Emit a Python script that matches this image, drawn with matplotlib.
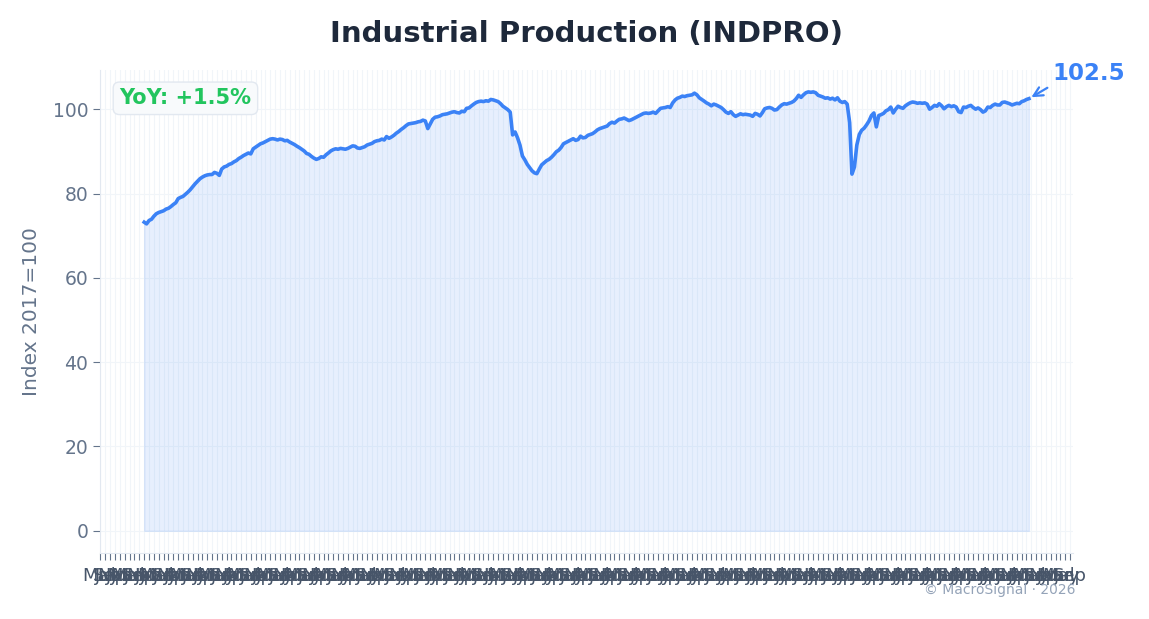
import matplotlib
matplotlib.use("Agg")
import matplotlib.pyplot as plt
import matplotlib.dates as mdates
import pandas as pd

# monthly INDPRO readings (index 2017=100)
start_month = "1995-11-01"
indpro = [
    73.2, 72.8, 73.6, 73.9, 74.6, 75.2, 75.5, 75.7, 75.9, 76.3, 76.5, 76.9,
    77.4, 77.8, 78.8, 79.1, 79.3, 79.8, 80.3, 80.9, 81.6, 82.3, 82.9, 83.5,
    83.9, 84.2, 84.4, 84.5, 84.5, 85.0, 84.8, 84.3, 85.8, 86.3, 86.5, 86.9,
    87.1, 87.5, 87.8, 88.3, 88.6, 89.0, 89.3, 89.6, 89.4, 90.6, 91.0, 91.4,
    91.8, 92.0, 92.3, 92.6, 92.9, 93.0, 92.9, 92.7, 92.9, 92.8, 92.5, 92.6,
    92.2, 91.9, 91.6, 91.2, 90.9, 90.5, 90.1, 89.5, 89.3, 88.8, 88.4, 88.1,
    88.3, 88.7, 88.6, 89.2, 89.6, 90.1, 90.4, 90.6, 90.5, 90.7, 90.6, 90.5,
    90.7, 91.0, 91.3, 91.2, 90.8, 90.7, 90.9, 91.1, 91.5, 91.7, 91.9, 92.3,
    92.5, 92.6, 92.9, 92.7, 93.5, 93.1, 93.4, 93.8, 94.3, 94.7, 95.2, 95.6,
    96.1, 96.5, 96.6, 96.7, 96.8, 97.0, 97.1, 97.4, 97.2, 95.4, 96.5, 97.6,
    98.1, 98.2, 98.4, 98.7, 98.8, 98.9, 99.1, 99.3, 99.4, 99.2, 99.1, 99.5,
    99.4, 100.2, 100.3, 100.8, 101.2, 101.6, 101.8, 101.9, 101.8, 102.0, 101.9, 102.3,
    102.2, 102.0, 101.8, 101.3, 100.7, 100.3, 99.9, 99.3, 93.9, 94.6, 93.2, 91.5,
    88.9, 88.0, 86.9, 86.1, 85.4, 84.9, 84.7, 85.8, 86.8, 87.3, 87.8, 88.1,
    88.6, 89.2, 89.9, 90.3, 90.9, 91.8, 92.1, 92.4, 92.7, 93.0, 92.6, 92.8,
    93.6, 93.2, 93.3, 93.8, 94.0, 94.2, 94.6, 95.1, 95.4, 95.6, 95.8, 96.0,
    96.6, 96.9, 96.7, 97.2, 97.6, 97.7, 97.9, 97.6, 97.3, 97.5, 97.8, 98.1,
    98.4, 98.7, 99.0, 99.1, 99.0, 99.1, 99.3, 99.0, 99.6, 100.2, 100.3, 100.4,
    100.6, 100.4, 101.5, 102.2, 102.6, 102.8, 103.1, 103.0, 103.2, 103.3, 103.4, 103.8,
    103.4, 102.7, 102.3, 101.9, 101.5, 101.2, 100.8, 101.2, 101.0, 100.7, 100.4, 99.9,
    99.3, 99.0, 99.4, 98.7, 98.3, 98.6, 98.9, 98.7, 98.8, 98.7, 98.6, 98.3,
    99.0, 98.8, 98.4, 99.2, 100.1, 100.3, 100.4, 100.2, 99.8, 99.9, 100.5, 101.0,
    101.3, 101.2, 101.4, 101.6, 101.9, 102.5, 103.3, 102.8, 103.4, 103.9, 104.1, 104.0,
    104.1, 103.9, 103.3, 103.1, 102.9, 102.6, 102.7, 102.4, 102.6, 102.2, 102.7, 101.9,
    101.6, 101.8, 101.2, 96.8, 84.6, 86.3, 91.5, 94.0, 95.0, 95.5, 96.3, 97.2,
    98.5, 99.1, 95.8, 98.5, 98.7, 99.0, 99.6, 99.9, 100.5, 99.1, 100.0, 100.7,
    100.4, 100.2, 100.8, 101.2, 101.5, 101.7, 101.6, 101.4, 101.5, 101.4, 101.5, 101.2,
    100.0, 100.4, 100.9, 100.7, 101.3, 100.8, 100.1, 100.6, 100.9, 100.6, 100.8, 100.5,
    99.4, 99.2, 100.5, 100.4, 100.7, 100.9, 100.4, 100.0, 100.3, 99.9, 99.3, 99.6,
    100.5, 100.4, 100.9, 101.2, 101.0, 101.0, 101.6, 101.7, 101.5, 101.3, 101.0, 101.2,
    101.4, 101.3, 101.8, 102.0, 102.3, 102.5,
]
title = "Industrial Production (INDPRO)"
y_label = "Index 2017=100"
credit = "\u00a9 MacroSignal \u00b7 2026"

blue = "#3b82f6"
green = "#22c55e"
slate = "#64748b"

dates = pd.date_range(start_month, periods=len(indpro), freq="MS")
last = indpro[-1]
yoy = (indpro[-1] / indpro[-13] - 1) * 100

fig, ax = plt.subplots(figsize=(11.49, 6.19), dpi=100)
fig.subplots_adjust(left=0.087, right=0.934, top=0.887, bottom=0.107)

ax.fill_between(dates, indpro, color=blue, alpha=0.12)
ax.plot(dates, indpro, color=blue, lw=2.6)

# one tick every other month -> labels pile up like the original
ax.xaxis.set_major_locator(mdates.MonthLocator(bymonth=[1, 3, 5, 7, 9, 11]))
ax.xaxis.set_major_formatter(mdates.DateFormatter("%b"))

ax.grid(True, color="#f1f5f9", lw=0.8)
ax.set_axisbelow(True)
for side in ["top", "right"]:
    ax.spines[side].set_visible(False)
for side in ["left", "bottom"]:
    ax.spines[side].set_color("#e2e8f0")
ax.tick_params(axis="both", colors=slate, labelsize=13.5, length=5)
ax.tick_params(axis="x", labelcolor="#475569", labelsize=13, pad=5.5)

ax.set_title(title, fontsize=21, fontweight="bold", color="#1e293b", pad=20)
ax.set_ylabel(y_label, fontsize=14.5, color=slate, labelpad=8)

ax.text(0.02, 0.962, f"YoY: {yoy:+.1f}%", transform=ax.transAxes,
        fontsize=15, fontweight="bold", color=green, va="top", ha="left",
        bbox=dict(boxstyle="round,pad=0.3", fc="#f8fafc", ec="#e2e8f0"))

ax.annotate(f"{last:.1f}", xy=(dates[-1], last), xytext=(17, 10),
            textcoords="offset points", fontsize=16.5, fontweight="bold",
            color=blue, ha="left", va="bottom",
            arrowprops=dict(arrowstyle="->", color=blue, lw=1.6, relpos=(0, 0)))

fig.text(0.936, 0.047, credit, ha="right", va="center", fontsize=10, color="#94a3b8")

plt.savefig("out.png", dpi=100)
